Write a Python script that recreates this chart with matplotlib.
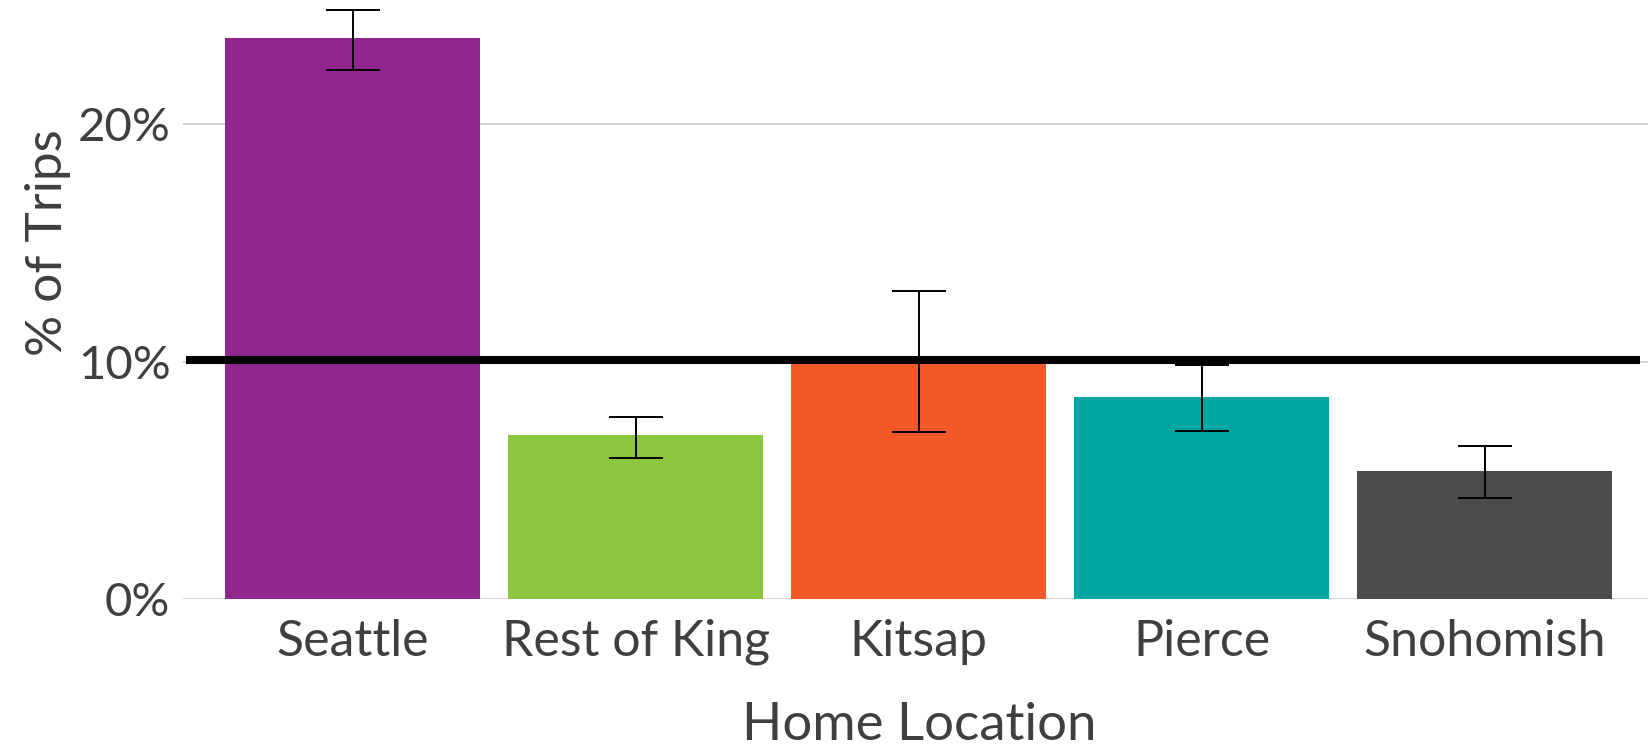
import matplotlib
matplotlib.use('Agg')
import matplotlib.pyplot as plt
from matplotlib.ticker import FuncFormatter

# share of trips by home location, with error bounds (percent)
locations = ['Seattle', 'Rest of King', 'Kitsap', 'Pierce', 'Snohomish']
share = [23.63, 6.91, 9.98, 8.52, 5.41]
lower = [22.28, 5.96, 7.05, 7.07, 4.27]
upper = [24.79, 7.68, 12.97, 9.87, 6.46]
region_avg = 10.07
colors = ['#91268F', '#8CC63E', '#F05A28', '#00A7A0', '#4C4C4C']

plt.rcParams['font.family'] = ['Lato', 'DejaVu Sans']
text_color = '#3F3F3F'

fig = plt.figure(figsize=(16.49, 7.49), dpi=100)
ax = fig.add_axes([183 / 1649, 0.2, 1471.6 / 1649, 0.8])

x = list(range(len(locations)))
yerr = [[s - lo for s, lo in zip(share, lower)], [hi - s for s, hi in zip(share, upper)]]

ax.bar(x, share, width=0.9, color=colors, zorder=2)
ax.errorbar(x, share, yerr=yerr, fmt='none', ecolor='black', elinewidth=1.4,
            capsize=19.5, capthick=1.4, zorder=3)
ax.hlines(region_avg, -0.59, 4.55, color='black', linewidth=5.8, zorder=4)

ax.set_xlim(-0.6, 4.6)
ax.set_ylim(0, 25.21)
ax.set_yticks([0, 10, 20])
ax.yaxis.set_major_formatter(FuncFormatter(lambda v, p: f'{v:.0f}%'))
ax.set_xticks(x)
ax.set_xticklabels(locations)

ax.grid(axis='y', color='#D0D0D0', linewidth=1.3, zorder=0)
ax.set_axisbelow(True)
for side in ['top', 'right', 'left', 'bottom']:
    ax.spines[side].set_visible(False)

ax.tick_params(axis='both', length=0, labelsize=34, colors=text_color)
ax.tick_params(axis='x', labelsize=36, pad=14)
ax.tick_params(axis='y', pad=9)

ax.set_xlabel('Home Location', fontsize=38, color=text_color)
ax.set_ylabel('% of Trips', fontsize=37, color=text_color)
ax.xaxis.set_label_coords(0.5, -0.172)
ax.yaxis.set_label_coords(-0.076, 0.595)

fig.savefig('out.png', dpi=100)
